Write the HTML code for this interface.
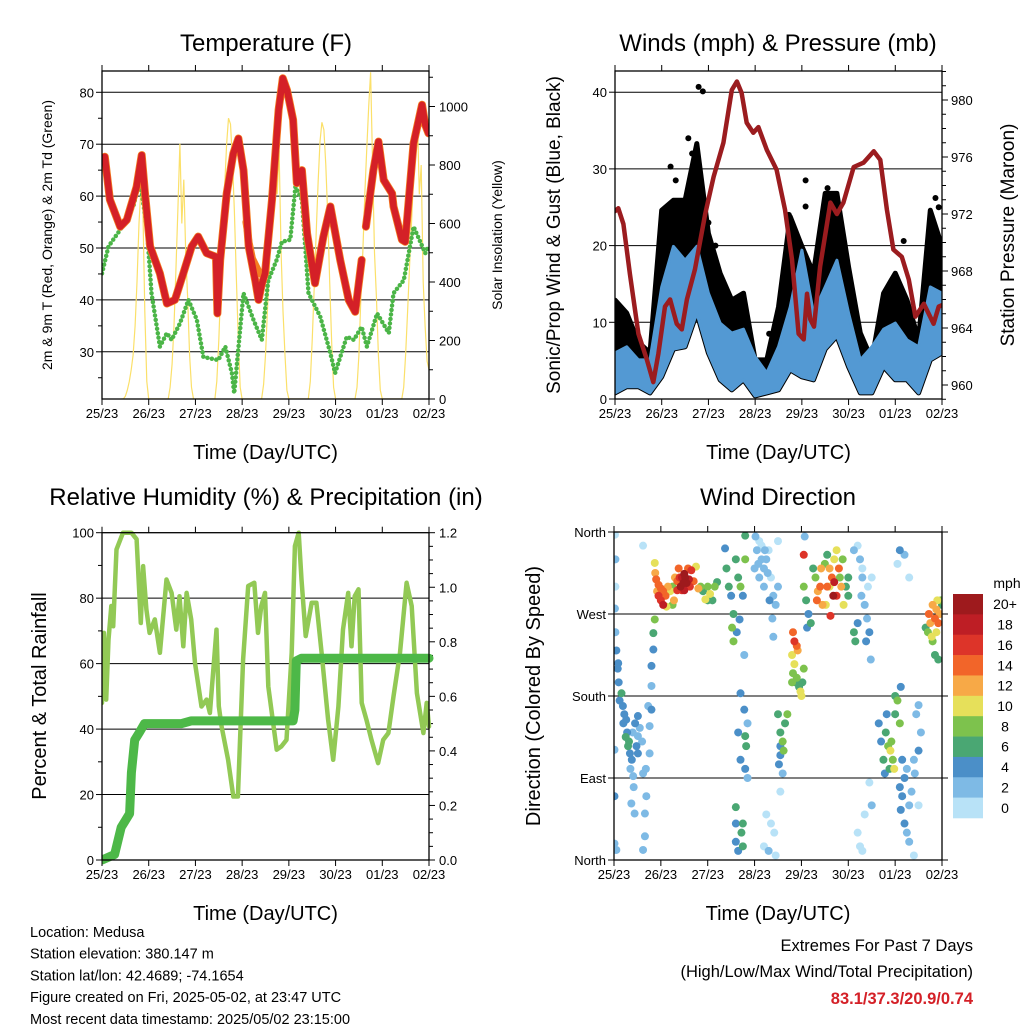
<!DOCTYPE html>
<html><head><meta charset="utf-8"><title>Medusa station 7-day weather</title>
<style>
body{margin:0;background:#fff;}
svg{display:block;font-family:"Liberation Sans",Arial,sans-serif;}
</style></head>
<body>
<svg id="chart" width="1024" height="1024" viewBox="0 0 1024 1024" xmlns="http://www.w3.org/2000/svg">
<rect x="0" y="0" width="1024" height="1024" fill="#fff"/>
<g id="layer"></g>
</svg>
<script>
// ---------- shared ----------
const dayLabels = ["25/23","26/23","27/23","28/23","29/23","30/23","01/23","02/23"];
// ---------- temperature panel ----------
const tempTicks = [30,40,50,60,70,80];
const solarTicks = [0,200,400,600,800,1000];
const tempRed = [[0,67],[0.06,67.6],[0.17,59.3],[0.39,54.1],[0.53,55.4],[0.74,61.8],[0.85,67.9],[0.92,60.5],[1.03,50.3],[1.24,45.1],[1.39,39.3],[1.56,40],[1.74,45.1],[1.92,50.3],[2.06,52.2],[2.24,49],[2.44,48.3],[2.47,37.4],[2.53,47.7],[2.67,60.5],[2.81,68.2],[2.92,71.1],[3.03,65],[3.14,50.3],[3.28,43.8],[3.35,40],[3.42,43],[3.49,45.1],[3.64,59.3],[3.78,76.6],[3.87,82.7],[3.96,80.4],[4.09,74.7],[4.17,62.5],[4.28,65],[4.39,52.8],[4.56,43.2],[4.74,52.2],[4.89,58],[5.1,47.7],[5.28,40],[5.42,37.7],[5.56,47.7],null,[5.65,54.1],[5.81,65],[5.92,70.5],[6.03,63.1],[6.21,60.5],[6.24,58],[6.42,51.6],[6.49,51.2],[6.67,70.2],[6.85,77.6],[6.92,73.7],[6.99,72.1]];
const tempOrange = [[3.08,55],[3.15,51],[3.22,48],[3.3,46.5],[3.38,45]];
const dewGreen = [[0,45.1],[0.14,50.3],[0.24,51.6],[0.39,53.5],[0.67,58],[0.81,63.1],[0.96,54.1],[1.06,41.3],[1.24,31],[1.39,33.6],[1.49,32.3],[1.67,35.5],[1.85,40],[2.03,36.2],[2.17,29],[2.49,28.4],[2.64,31],[2.78,25.9],[2.83,22],[3.03,41.3],[3.24,36.2],[3.42,32.3],[3.56,43.8],[3.74,47.7],[3.85,51.2],[4.03,51.6],[4.14,61.8],[4.28,59.3],[4.42,41.3],[4.67,36.8],[4.89,29.7],[4.99,25.9],[5.24,32.9],[5.39,32.3],[5.56,34.8],[5.67,31],[5.89,37.4],[6.14,33.6],[6.24,41.3],[6.46,43.8],[6.67,54.1],[6.92,49],[6.99,50.3]];
// hourly solar insolation, hours 10..24 after each day tick
const solarDay0 = [0,0,10,30,60,100,150,250,400,600,720,650,300,60,0];
const solarDay1 = [0,40,120,250,450,650,873,600,750,500,350,150,40,0,0];
const solarDay2 = [0,60,200,380,560,720,870,960,940,820,640,420,200,40,0];
const solarDay3 = [0,50,150,300,450,650,800,940,700,850,500,300,150,30,0];
const solarDay4 = [0,60,200,380,560,740,880,946,920,800,620,400,190,40,0];
const solarDay5 = [0,40,150,350,500,700,850,1000,1117,800,500,350,150,30,0];
const solarDay6 = [0,40,150,300,450,600,750,900,986,700,800,400,250,130,100];
// ---------- wind panel ----------
const windTicks = [0,10,20,30,40];
const presTicks = [960,964,968,972,976,980];
const windDays = [0,0.25,0.5,0.75,1,1.25,1.5,1.75,2,2.25,2.5,2.75,3,3.25,3.5,3.75,4,4.25,4.5,4.75,5,5.25,5.5,5.75,6,6.25,6.5,6.75,7];
const windHigh = [6.0,6.8,5.1,5.1,14.6,19.9,18.1,19.9,13.8,9.9,8.6,9.1,5.5,3.4,6.8,12.0,19.4,11.2,14.6,18.1,11.2,5.1,6.8,9.1,9.9,7.7,6.8,14.6,13.8];
const windLow = [0.8,1.6,1.6,0.8,2.9,6.5,6.8,11.2,6.0,2.5,1.2,2.5,0.4,0.8,1.2,3.8,2.9,2.5,6.5,8.2,4.2,0.8,0.8,4.2,2.5,2.5,0.8,5.1,6.0];
const gustHigh = [12.9,11.2,7.4,6.0,24.6,25.9,25.9,33.3,21.6,16.4,12.9,13.8,5.1,5.1,12.0,23.8,19.9,16.4,26.8,26.8,17.2,8.6,5.1,13.8,16.4,12.9,7.7,24.6,19.9];
const gustOutDays = [1.79,1.88,1.57,1.19,1.3,1.65,4.08,4.08,6.86,6.93,6.18,3.72,4.55,4.7,2.0,2.15,3.3];
const gustOutVals = [40.7,40.1,34.0,30.3,28.5,32.0,28.5,25.1,26.2,25.0,20.6,24.0,27.5,26.0,23.0,20.0,8.5];
const presData = [[0,972.2],[0.07,972.4],[0.18,971.3],[0.32,967.8],[0.5,963.6],[0.68,961.8],[0.82,960.2],[0.93,962.2],[1.07,965.5],[1.18,966],[1.32,964.3],[1.43,963.9],[1.54,966],[1.71,968.1],[1.93,972],[2.11,974.6],[2.32,977],[2.5,980.7],[2.61,981.3],[2.71,980.5],[2.82,978.4],[2.96,977.7],[3.07,978.1],[3.25,976.5],[3.46,975.1],[3.64,972.3],[3.79,968.8],[3.93,963.6],[4.04,963.2],[4.11,966.4],[4.18,964.6],[4.26,964.1],[4.39,968.3],[4.61,972.8],[4.75,972],[4.89,972.8],[5.11,975.3],[5.32,975.6],[5.54,976.4],[5.68,975.8],[5.82,972.3],[5.96,969.5],[6.14,969],[6.29,967.4],[6.43,964.8],[6.61,965.7],[6.82,964.3],[6.93,965.5],[7.0,965.6]];
// ---------- RH panel ----------
const rhTicks = [0,20,40,60,80,100];
const prTicks = ["0.0","0.2","0.4","0.6","0.8","1.0","1.2"];
const rhData = [[0,48],[0.04,69.4],[0.09,49],[0.14,67.3],[0.2,77.6],[0.24,71.4],[0.31,94.9],[0.45,100],[0.63,100],[0.74,98],[0.83,72.4],[0.88,89.8],[0.95,76.5],[1.02,69.4],[1.13,73.5],[1.24,63.3],[1.38,85.7],[1.49,81.6],[1.59,70.4],[1.66,80.6],[1.74,65.3],[1.81,81.6],[1.91,73.5],[1.99,60.2],[2.13,46.9],[2.24,49],[2.31,44.9],[2.45,70.4],[2.5,47],[2.56,40.8],[2.7,30.6],[2.81,19.4],[2.91,19.4],[3.02,61.2],[3.13,83.7],[3.26,84.7],[3.34,69.4],[3.41,77.6],[3.49,81.6],[3.56,53],[3.74,33.7],[3.84,34.7],[3.95,36.7],[4.06,63.3],[4.13,95.9],[4.21,100],[4.27,85.7],[4.36,68.4],[4.49,78.6],[4.59,78.6],[4.7,63.3],[4.84,42.9],[4.95,30.6],[5.06,46.9],[5.16,70.4],[5.27,81.6],[5.34,65.3],[5.41,80.6],[5.49,82.7],[5.56,48],[5.66,42.9],[5.77,36.7],[5.91,29.6],[6.02,36.7],[6.13,38.8],[6.24,50],[6.38,63.3],[6.52,84.7],[6.63,77.6],[6.74,51],[6.88,38.8],[6.95,48],[7.0,40.8]];
const precipData = [[0,0],[0.27,0.02],[0.41,0.12],[0.59,0.17],[0.63,0.32],[0.7,0.44],[0.81,0.47],[0.91,0.50],[1.7,0.50],[1.91,0.51],[4.09,0.51],[4.13,0.55],[4.16,0.73],[4.27,0.74],[7.0,0.74]];
// ---------- direction panel ----------
const dirLabels = ["North","East","South","West","North"];
const dirTicks = [0,90,180,270,360];
const speedBins = ["0","2","4","6","8","10","12","14","16","18","20+"];
const speedColors = ["#b8e2f7","#7ebae5","#4b8fc8","#4aa773","#7dc24d","#e6e05a","#f7a947","#f26529","#dd3429","#be1e25","#9e1a1d"];
const windObs = [
[0.02,357,1],[0.03,330,2],[0.03,300,1],[0.02,276,2],[0.03,250,3],[0.05,230,4],[0.08,210,4],[0.09,216,4],[0.1,195,4],[0.16,183,6],[0.19,169,4],[0.26,154,4],[0.3,125,6],[0.34,117,4],[0.41,92,3],[0.37,62,2],[0.44,51,3],[0.51,158,4],[0.51,136,3],[0.51,117,4],[0.62,95,2],[0.66,51,2],[0.66,26,2],[0.73,169,2],[0.76,147,2],[0.76,117,2],[0.69,70,2],[0.62,11,2],[0.8,165,4],[0.84,231,4],[0.8,191,2],[0.8,213,4],[0.84,249,6],[0.87,264,8],[0.01,70,4],[0.01,18,2],[0.05,11,3],[0.01,121,2],[0.62,345,1],
[0.12,175,4],[0.22,160,4],[0.28,140,4],[0.32,130,6],[0.4,140,3],[0.45,150,4],[0.48,125,4],[0.55,145,2],[0.6,130,2],[0.68,100,2],[0.35,100,3],[0.42,80,2],[0.25,135,6],[0.2,150,4],[0.38,110,4],
[0.87,326,10],[0.88,315,12],[0.9,308,14],[0.92,295,12],[0.95,290,16],[1.0,285,16],[1.05,280,18],[1.1,290,14],[1.15,300,12],[1.2,295,10],[1.25,300,8],[1.3,310,12],[1.35,306,14],[1.4,310,16],[1.45,310,18],[1.5,314,20],[1.55,304,20],[1.6,308,18],[1.65,318,16],[1.7,306,14],[1.75,322,10],[1.8,298,12],[1.85,300,8],[1.9,295,6],[1.95,286,10],[2.0,300,8],[2.05,292,10],[2.1,285,6],[1.12,278,10],[1.28,285,12],[1.38,320,14],[1.5,296,18],[1.58,320,14],[1.45,296,16],[1.25,280,8],[2.0,285,6],[2.15,300,8],[2.2,305,6],[1.0,298,14],[0.95,302,14],[1.42,300,20],[1.52,310,20],[1.48,304,20],[1.62,300,16],[1.35,296,16],[1.05,295,14],
[2.37,342,4],[2.4,320,6],[2.45,300,6],[2.5,290,4],[2.55,270,6],[2.52,255,8],[2.55,240,8],[2.6,330,6],[2.65,310,6],[2.7,300,8],[2.75,290,4],[2.8,356,6],[2.8,330,8],[2.68,264,4],[2.62,250,4],[2.78,225,3],
[2.7,183,4],[2.78,165,4],[2.85,150,3],[2.8,136,6],[2.82,125,6],[2.65,140,4],[2.7,110,4],[2.8,100,4],[2.85,90,2],[2.6,58,6],[2.6,40,4],[2.6,20,4],[2.65,10,4],[2.75,40,6],[2.75,15,6],[2.72,30,6],
[3.02,355,2],[3.05,340,2],[3.1,350,1],[3.15,330,2],[3.2,320,2],[3.1,310,2],[3.2,300,2],[3.3,340,1],[3.35,310,1],[3.4,290,2],[3.45,280,3],[3.5,300,2],[3.38,265,2],[3.4,245,2],[3.0,320,3],[3.25,330,2],[3.15,345,1],[3.32,285,4],[3.5,350,1],[3.08,325,2],[3.22,340,2],[3.28,315,2],
[3.25,50,1],[3.35,40,1],[3.42,30,1],[3.3,10,2],[3.45,5,1],[3.2,15,1],[3.55,75,1],
[3.5,160,6],[3.55,140,6],[3.6,130,8],[3.55,115,4],[3.52,105,4],[3.6,95,3],[3.65,150,6],[3.7,160,8],[3.55,125,4],[3.62,120,8],
[3.82,250,14],[3.85,240,16],[3.9,235,14],[3.8,225,10],[3.85,215,10],[3.9,200,8],[3.95,190,6],[3.98,185,10],[4.0,180,10],[3.82,205,8],[3.87,195,6],[4.05,210,8],[4.02,195,6],[3.92,230,12],[3.8,195,8],
[4.05,335,16],[4.05,300,8],[4.1,285,6],[4.15,270,4],[4.12,255,4],[4.2,260,6],[4.25,320,6],[4.3,310,8],[4.35,295,12],[4.4,300,14],[4.45,280,12],[4.5,325,8],[4.55,335,6],[4.6,300,10],[4.65,310,14],[4.7,305,18],[4.75,290,16],[4.8,320,14],[4.85,300,12],[4.9,280,10],[4.6,320,12],[4.7,330,10],[4.75,340,10],[4.95,300,6],[5.0,290,6],[5.0,310,6],[4.62,268,16],[4.52,280,10],[4.42,320,12],[4.82,310,8],[4.88,330,8],[4.33,285,14],[4.68,290,20],[4.55,300,14],[4.07,355,2],
[5.12,340,2],[5.2,345,1],[5.25,330,2],[5.3,310,2],[5.28,290,2],[5.35,280,2],[5.3,320,1],[5.4,265,3],[5.45,250,4],[5.38,240,4],[5.48,220,2],[5.2,260,4],[5.15,240,6],[5.12,250,6],[5.42,300,1],[5.5,310,1],
[5.2,30,1],[5.25,15,1],[5.3,10,1],[5.35,50,1],[5.45,85,1],[5.5,60,2],
[5.65,150,4],[5.7,130,4],[5.75,110,6],[5.78,95,4],[5.8,140,6],[5.85,125,8],[5.9,120,10],[5.95,110,8],[5.98,100,10],[6.0,180,6],[6.05,175,8],[6.0,160,6],[6.1,150,8],[6.12,190,4],[6.15,110,4],[6.2,90,4],[6.25,100,3],[5.82,160,4],[5.92,130,8],[5.88,100,6],
[6.1,80,4],[6.15,70,4],[6.12,55,4],[6.2,40,4],[6.25,30,3],[6.3,60,3],[6.35,75,2],[6.4,110,2],[6.45,160,2],[6.5,170,3],[6.5,120,4],[6.55,140,2],[6.42,95,3],[6.3,20,2],[6.4,5,1],[6.5,60,1],[6.1,340,4],[6.2,335,2],[6.05,325,1],[6.3,310,1],
[6.65,255,6],[6.7,250,8],[6.72,270,14],[6.75,260,12],[6.78,245,10],[6.8,240,8],[6.85,265,14],[6.88,275,12],[6.9,285,10],[6.92,260,14],[6.95,270,12],[6.98,285,8],[7.0,280,6],[6.85,225,6],[6.92,220,6],[6.8,280,12],[6.88,250,10]
];
// ---------- footer ----------
const footerLines = ["Location: Medusa","Station elevation: 380.147 m","Station lat/lon: 42.4689; -74.1654","Figure created on Fri, 2025-05-02, at 23:47 UTC","Most recent data timestamp: 2025/05/02 23:15:00"];

const NS = "http://www.w3.org/2000/svg";
const root = document.getElementById('layer');
function mk(tag, attrs, parent, text){
  const e = document.createElementNS(NS, tag);
  for (const k in attrs) e.setAttribute(k, attrs[k]);
  if (text !== undefined) e.textContent = text;
  (parent || root).appendChild(e);
  return e;
}
function pathFrom(pts, fx, fy){
  let d = "", pen = false;
  for (const p of pts){
    if (!p){ pen = false; continue; }
    d += (pen ? "L" : "M") + fx(p[0]).toFixed(1) + "," + fy(p[1]).toFixed(1);
    pen = true;
  }
  return d;
}
function panelFrame(g, P, name){
  const r = mk('rect', {x:P.x0, y:P.y0, width:P.x1-P.x0, height:P.y1-P.y0, fill:'none', stroke:'#000', 'stroke-width':1.3}, g);
  
  
}
function dayAxis(g, P, name){
  const ax = mk('g', {}, g);
  
  
  dayLabels.forEach((lab, i) => {
    const x = P.x0 + i*(P.x1-P.x0)/7;
    mk('line', {x1:x, x2:x, y1:P.y1, y2:P.y1+6, stroke:'#000', 'stroke-width':1}, ax);
    mk('line', {x1:x, x2:x, y1:P.y0, y2:P.y0-6, stroke:'#000', 'stroke-width':1}, ax);
    const t = mk('text', {x:x, y:P.y1+19, 'font-size':13, 'text-anchor':'middle', fill:'#000'}, ax, lab);
    
    
  });
  const tt = mk('text', {x:(P.x0+P.x1)/2, y:P.y1+60, 'font-size':20, 'text-anchor':'middle'}, ax, "Time (Day/UTC)");
  
  
}
function title(txt, x, y, name){
  const t = mk('text', {x:x, y:y, 'font-size':24, 'text-anchor':'middle'}, root, txt);
  
  
}
function vtitle(txt, x, y, size, name){
  const t = mk('text', {x:x, y:y, 'font-size':size, 'text-anchor':'middle', transform:`rotate(-90 ${x} ${y})`}, root, txt);
  
  
}

// ================= PANEL 1: Temperature =================
(function(){
  const P = {x0:102, x1:429, y0:71, y1:399};
  const xs = d => P.x0 + d*(P.x1-P.x0)/7;
  const yT = v => 92.3 + (80 - v)*5.19;
  const yS = v => P.y1 - v*0.2925;
  const g = mk('g', {});
  
  
  const cp = mk('clipPath', {id:'clip1'}, g);
  mk('rect', {x:P.x0, y:P.y0, width:P.x1-P.x0, height:P.y1-P.y0}, cp);
  tempTicks.forEach(v => {
    mk('line', {x1:P.x0, x2:P.x1, y1:yT(v), y2:yT(v), stroke:'#000', 'stroke-width':1}, g);
    mk('line', {x1:P.x0-6, x2:P.x0, y1:yT(v), y2:yT(v), stroke:'#000'}, g);
    const t = mk('text', {x:P.x0-8, y:yT(v)+5, 'font-size':13, 'text-anchor':'end'}, g, String(v));
    
    
  });
  for (let v = 25; v <= 80; v += 10) mk('line', {x1:P.x0-4, x2:P.x0, y1:yT(v), y2:yT(v), stroke:'#000'}, g);
  for (let v = 0; v <= 1100; v += 100) mk('line', {x1:P.x1, x2:P.x1+(v%200===0?6:4), y1:yS(v), y2:yS(v), stroke:'#000'}, g);
  solarTicks.forEach(v => {
    const t = mk('text', {x:P.x1+10, y:yS(v)+5, 'font-size':13}, g, String(v));
    
    
  });
  const dg = mk('g', {'clip-path':'url(#clip1)'}, g);
  const solarDays = [solarDay0,solarDay1,solarDay2,solarDay3,solarDay4,solarDay5,solarDay6];
  const spts = [];
  solarDays.forEach((arr, d) => arr.forEach((v, i) => spts.push([d + (10+i)/24, v])));
  const sp = mk('path', {d:pathFrom(spts, xs, yS), fill:'none', stroke:'#fbe06a', 'stroke-width':1.2}, dg);
  
  
  const gp = mk('path', {d:pathFrom(dewGreen, xs, yT), fill:'none', stroke:'#4bb547', 'stroke-width':4.5, 'stroke-linecap':'round', 'stroke-dasharray':'0 4.5'}, dg);
  
  
  const op = mk('path', {d:pathFrom(tempRed, xs, yT), fill:'none', stroke:'#f47c20', 'stroke-width':8, 'stroke-linejoin':'round', 'stroke-linecap':'round'}, dg);
  
  
  const op2 = mk('path', {d:pathFrom(tempOrange, xs, yT), fill:'none', stroke:'#f47c20', 'stroke-width':7, 'stroke-linecap':'round'}, dg);
  
  
  const rp = mk('path', {d:pathFrom(tempRed, xs, yT), fill:'none', stroke:'#d42027', 'stroke-width':6.5, 'stroke-linejoin':'round', 'stroke-linecap':'round'}, dg);
  
  
  panelFrame(g, P, 'temperature');
  dayAxis(g, P, 'temperature');
})();
title("Temperature (F)", 266, 51, 'temperature-title');
vtitle("2m & 9m T (Red, Orange) & 2m Td (Green)", 52, 235, 14, 'temperature-y-axis-title');
vtitle("Solar Insolation (Yellow)", 502, 235, 14, 'solar-y-axis-title');

// ================= PANEL 2: Winds =================
(function(){
  const P = {x0:615, x1:942, y0:71, y1:399};
  const xs = d => P.x0 + d*(P.x1-P.x0)/7;
  const yW = v => P.y1 - v*7.67;
  const yP = v => 385 - (v-960)*14.25;
  const g = mk('g', {});
  
  
  const cp = mk('clipPath', {id:'clip2'}, g);
  mk('rect', {x:P.x0, y:P.y0, width:P.x1-P.x0, height:P.y1-P.y0}, cp);
  windTicks.forEach(v => {
    if (v > 0) mk('line', {x1:P.x0, x2:P.x1, y1:yW(v), y2:yW(v), stroke:'#000'}, g);
    mk('line', {x1:P.x0-6, x2:P.x0, y1:yW(v), y2:yW(v), stroke:'#000'}, g);
    const t = mk('text', {x:P.x0-8, y:yW(v)+5, 'font-size':13, 'text-anchor':'end'}, g, String(v));
    
    
  });
  for (let v = 959; v <= 982; v++) mk('line', {x1:P.x1, x2:P.x1+(v%4===0?6:4), y1:yP(v), y2:yP(v), stroke:'#000'}, g);
  presTicks.forEach(v => {
    const t = mk('text', {x:P.x1+9, y:yP(v)+5, 'font-size':13}, g, String(v));
    
    
  });
  const dg = mk('g', {'clip-path':'url(#clip2)'}, g);
  let d = "";
  windDays.forEach((t, i) => d += (i ? "L" : "M") + xs(t).toFixed(1) + "," + yW(gustHigh[i]).toFixed(1));
  for (let i = windDays.length-1; i >= 0; i--) d += "L" + xs(windDays[i]).toFixed(1) + "," + yW(windLow[i]).toFixed(1);
  const gb = mk('path', {d:d+"Z", fill:'#000', stroke:'#000', 'stroke-width':5, 'stroke-linejoin':'round'}, dg);
  
  
  gustOutDays.forEach((t, i) => {
    const c = mk('circle', {cx:xs(t), cy:yW(gustOutVals[i]), r:3, fill:'#000'}, dg);
    
    
  });
  d = "";
  windDays.forEach((t, i) => d += (i ? "L" : "M") + xs(t).toFixed(1) + "," + yW(windHigh[i]).toFixed(1));
  for (let i = windDays.length-1; i >= 0; i--) d += "L" + xs(windDays[i]).toFixed(1) + "," + yW(windLow[i]).toFixed(1);
  const wb = mk('path', {d:d+"Z", fill:'#5399d3', stroke:'#5399d3', 'stroke-width':3, 'stroke-linejoin':'round'}, dg);
  
  
  const pp = mk('path', {d:pathFrom(presData, xs, yP), fill:'none', stroke:'#9b1c1f', 'stroke-width':4.5, 'stroke-linejoin':'round', 'stroke-linecap':'round'}, dg);
  
  
  panelFrame(g, P, 'winds');
  dayAxis(g, P, 'winds');
})();
title("Winds (mph) & Pressure (mb)", 778, 51, 'winds-title');
vtitle("Sonic/Prop Wind & Gust (Blue, Black)", 560, 235, 19, 'wind-y-axis-title');
vtitle("Station Pressure (Maroon)", 1014, 235, 19, 'pressure-y-axis-title');

// ================= PANEL 3: RH =================
(function(){
  const P = {x0:102, x1:429, y0:532.7, y1:860};
  const xs = d => P.x0 + d*(P.x1-P.x0)/7;
  const yR = v => P.y1 - v*3.273;
  const yPr = v => P.y1 - v/1.2*327.3;
  const g = mk('g', {});
  
  
  const cp = mk('clipPath', {id:'clip3'}, g);
  mk('rect', {x:P.x0, y:P.y0-6, width:P.x1-P.x0+6, height:P.y1-P.y0+12}, cp);
  rhTicks.forEach(v => {
    if (v > 0 && v < 100) mk('line', {x1:P.x0, x2:P.x1, y1:yR(v), y2:yR(v), stroke:'#000'}, g);
    mk('line', {x1:P.x0-6, x2:P.x0, y1:yR(v), y2:yR(v), stroke:'#000'}, g);
    const t = mk('text', {x:P.x0-8, y:yR(v)+5, 'font-size':13, 'text-anchor':'end'}, g, String(v));
    
    
  });
  for (let v = 10; v < 100; v += 20) mk('line', {x1:P.x0-4, x2:P.x0, y1:yR(v), y2:yR(v), stroke:'#000'}, g);
  for (let i = 0; i <= 24; i++) mk('line', {x1:P.x1, x2:P.x1+(i%4===0?6:4), y1:yPr(i*0.05), y2:yPr(i*0.05), stroke:'#000'}, g);
  prTicks.forEach(s => {
    const t = mk('text', {x:P.x1+10, y:yPr(parseFloat(s))+5, 'font-size':13}, g, s);
    
    
  });
  const dg = mk('g', {'clip-path':'url(#clip3)'}, g);
  const rp = mk('path', {d:pathFrom(rhData, xs, yR), fill:'none', stroke:'#92c955', 'stroke-width':4.5, 'stroke-linejoin':'round', 'stroke-linecap':'round'}, dg);
  
  
  const pp = mk('path', {d:pathFrom(precipData, xs, yPr), fill:'none', stroke:'#4db848', 'stroke-width':9, 'stroke-linejoin':'round', 'stroke-linecap':'round'}, dg);
  
  
  panelFrame(g, P, 'humidity');
  dayAxis(g, P, 'humidity');
})();
title("Relative Humidity (%) & Precipitation (in)", 266, 505, 'humidity-title');
vtitle("Percent & Total Rainfall", 46, 696, 20, 'humidity-y-axis-title');

// ================= PANEL 4: Wind direction =================
(function(){
  const P = {x0:614, x1:942, y0:532, y1:860};
  const xs = d => P.x0 + d*(P.x1-P.x0)/7;
  const yD = v => P.y1 - v*(P.y1-P.y0)/360;
  const g = mk('g', {});
  
  
  const cp = mk('clipPath', {id:'clip4'}, g);
  mk('rect', {x:P.x0, y:P.y0, width:P.x1-P.x0, height:P.y1-P.y0}, cp);
  dirTicks.forEach((v, i) => {
    if (v > 0 && v < 360) mk('line', {x1:P.x0, x2:P.x1, y1:yD(v), y2:yD(v), stroke:'#000'}, g);
    mk('line', {x1:P.x0-6, x2:P.x0, y1:yD(v), y2:yD(v), stroke:'#000'}, g);
    mk('line', {x1:P.x1, x2:P.x1+6, y1:yD(v), y2:yD(v), stroke:'#000'}, g);
    const t = mk('text', {x:P.x0-8, y:yD(v)+5, 'font-size':13, 'text-anchor':'end'}, g, dirLabels[i]);
    
    
  });
  const dg = mk('g', {'clip-path':'url(#clip4)'}, g);
  const order = windObs.slice().sort((a, b) => a[2] - b[2]);
  order.forEach(o => {
    const idx = Math.min(10, Math.floor(o[2]/2));
    const c = mk('circle', {cx:xs(o[0]), cy:yD(o[1]), r:4, fill:speedColors[idx]}, dg);
    
    
  });
  panelFrame(g, P, 'direction');
  dayAxis(g, P, 'direction');
  const cb = mk('g', {});
  
  
  const bh = (818-594)/speedBins.length;
  speedBins.forEach((lab, i) => {
    const k = speedBins.length-1-i;
    const y = 594 + i*bh;
    const r = mk('rect', {x:953, y:y, width:30, height:bh+0.3, fill:speedColors[k]}, cb);
    
    
    const t = mk('text', {x:1005, y:y+bh/2+5, 'font-size':14, 'text-anchor':'middle'}, cb, speedBins[k]);
    
    
  });
  const mt = mk('text', {x:1007, y:588, 'font-size':14, 'text-anchor':'middle'}, cb, "mph");
  
  
})();
title("Wind Direction", 778, 505, 'direction-title');
vtitle("Direction (Colored By Speed)", 540, 696, 20, 'direction-y-axis-title');

// ================= footer =================
(function(){
  const g = mk('g', {});
  
  
  footerLines.forEach((s, i) => {
    const t = mk('text', {x:30, y:937 + i*21.7, 'font-size':14.5}, g, s);
    
    
  });
  const e = mk('g', {});
  
  
  const a = mk('text', {x:973, y:951, 'font-size':16.5, 'text-anchor':'end'}, e, "Extremes For Past 7 Days");
  
  
  const b = mk('text', {x:973, y:977, 'font-size':16.5, 'text-anchor':'end'}, e, "(High/Low/Max Wind/Total Precipitation)");
  
  
  const c = mk('text', {x:973, y:1004, 'font-size':16.5, 'font-weight':'bold', 'text-anchor':'end', fill:'#d42027'}, e, "83.1/37.3/20.9/0.74");
  
  
})();
</script>
</body></html>
